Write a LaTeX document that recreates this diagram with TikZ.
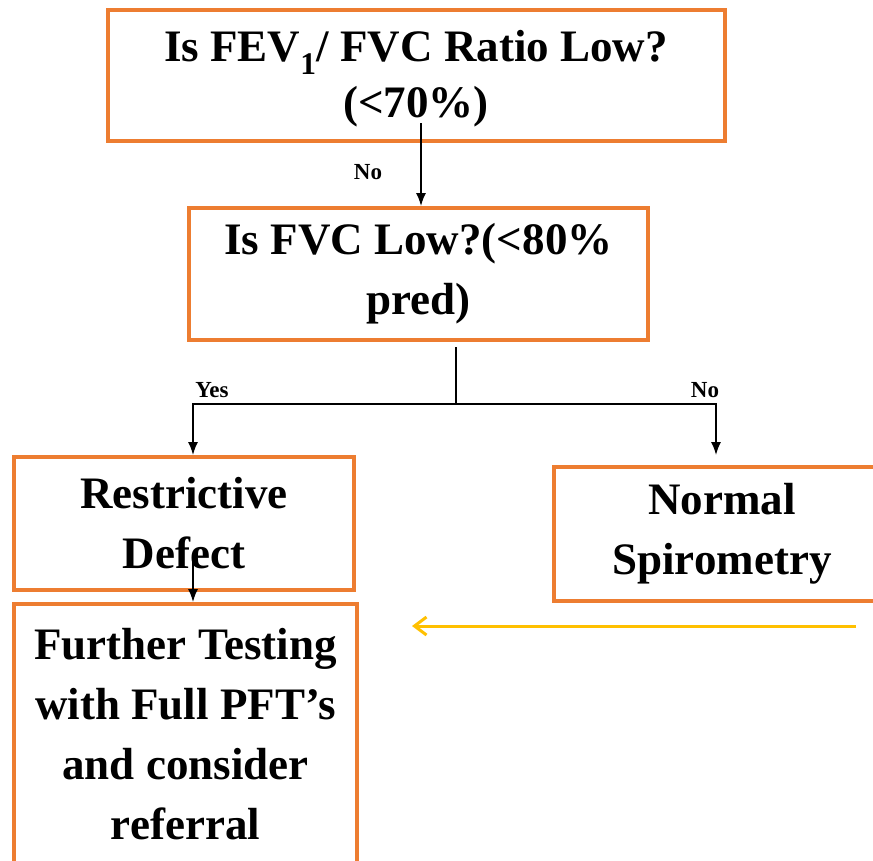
\documentclass[tikz,border=0pt]{standalone}
\usepackage{fontspec}
\setmainfont{Liberation Serif}
\usetikzlibrary{arrows.meta}
\definecolor{boxorange}{HTML}{ED7D31}
\definecolor{arrowyellow}{HTML}{FFC000}
\begin{document}
\begin{tikzpicture}[x=1pt,y=-1pt,
  flowbox/.style={draw=boxorange, line width=4pt, inner sep=0pt, align=center,
    font=\fontsize{45}{60}\selectfont\bfseries},
  conn/.style={line width=1.5pt, -{Latex[length=13pt,width=10pt]}},
  plainline/.style={line width=1.5pt},
  lbl/.style={font=\fontsize{23}{26}\selectfont\bfseries, inner sep=0pt},
  yellowarrow/.style={draw=arrowyellow, line width=3pt, -{Straight Barb[length=12pt,width=18pt]}},
]
\useasboundingbox (0,0) rectangle (873,860);
\clip (0,0) rectangle (873,860);
\node[flowbox, minimum width=617pt, minimum height=131pt,
  font=\fontsize{45}{56}\selectfont\bfseries] (top) at (416,75.5) {};
\node[font=\fontsize{45}{56}\selectfont\bfseries, align=center, inner sep=0pt] (toptext) at (416,79)
  {Is FEV\textsubscript{1}/ FVC Ratio Low?\\(<70\%)};
\node[flowbox, minimum width=459pt, minimum height=132pt] (fvc) at (418.5,274)
  {Is FVC Low?(<80\%\\pred)};
\node[flowbox, minimum width=340pt, minimum height=133pt] (rest) at (184,523.5)
  {Restrictive\\Defect};
\node[flowbox, minimum width=336pt, minimum height=134pt] (norm) at (722,534)
  {Normal\\Spirometry};
\node[flowbox, minimum width=343pt, minimum height=261pt] (further) at (185.5,734.5)
  {Further Testing\\with Full PFT’s\\and consider\\referral};
% connectors
\coordinate (s1) at (421,123);
\draw[conn] (s1) -- (s1 |- fvc.north);
\node[lbl] (lno1) at (368,172) {No};
\coordinate (b0) at (456,347);
\coordinate (j) at (456,404);
\coordinate (yl) at (193,404);
\coordinate (nl) at (716,404);
\coordinate (ne) at (716,455);
\draw[plainline] (b0) -- (j);
\draw[conn] (j) -- (yl) -- (yl |- rest.north);
\draw[conn] (j) -- (nl) -- (ne);
\node[lbl] (lyes) at (212,390) {Yes};
\node[lbl] (lno2) at (705,390) {No};
\coordinate (s2) at (193,555);
\draw[conn] (s2) -- (s2 |- further.north);
\coordinate (ys) at (856,626);
\coordinate (ye) at (412,626);
\draw[yellowarrow] (ys) -- (ye);
\end{tikzpicture}
\end{document}
